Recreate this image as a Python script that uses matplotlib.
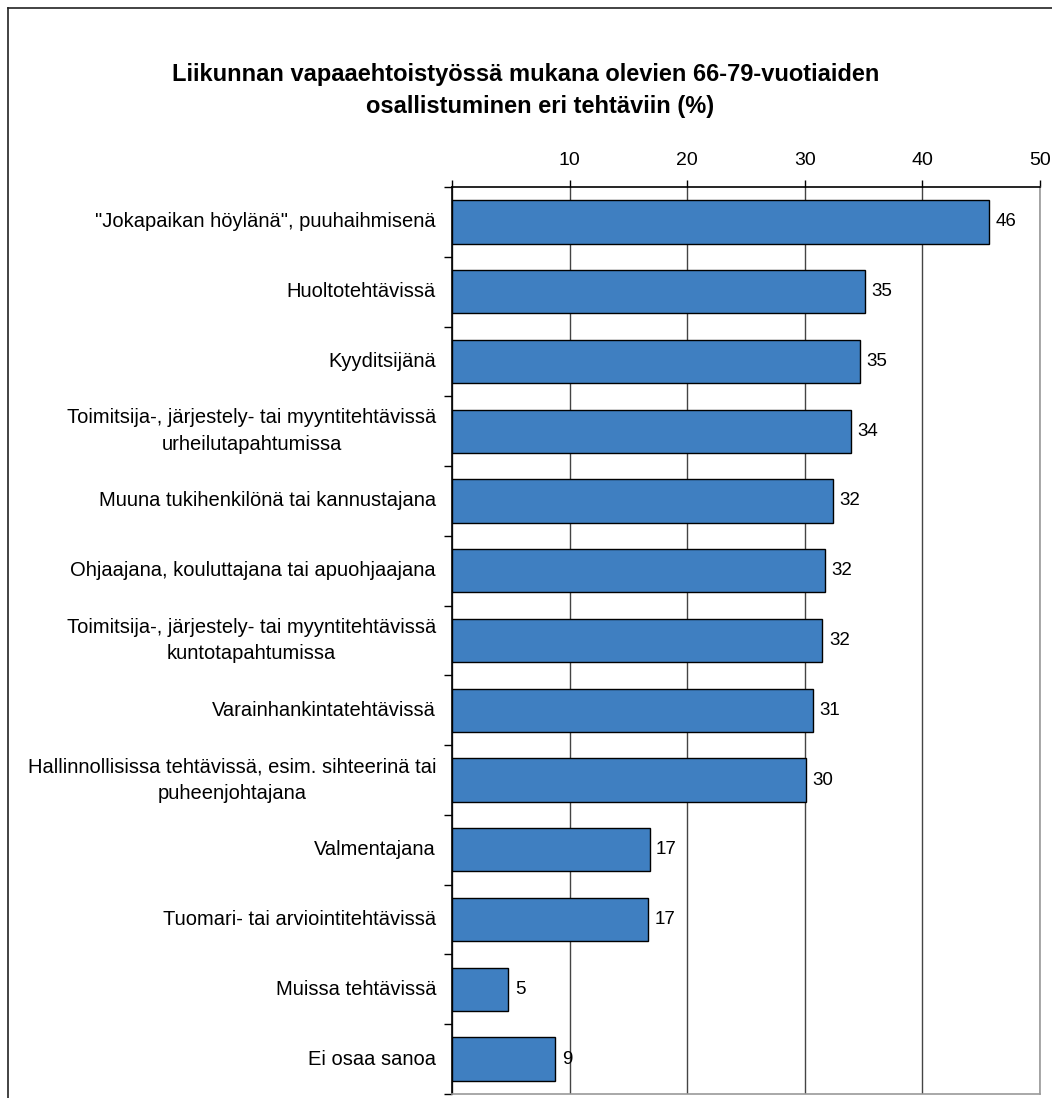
import matplotlib.pyplot as plt
from matplotlib.lines import Line2D

plt.rcParams['font.family'] = ['Liberation Sans', 'DejaVu Sans']

categories = [
    '"Jokapaikan höylänä", puuhaihmisenä',
    'Huoltotehtävissä',
    'Kyyditsijänä',
    'Toimitsija-, järjestely- tai myyntitehtävissä\nurheilutapahtumissa',
    'Muuna tukihenkilönä tai kannustajana',
    'Ohjaajana, kouluttajana tai apuohjaajana',
    'Toimitsija-, järjestely- tai myyntitehtävissä\nkuntotapahtumissa',
    'Varainhankintatehtävissä',
    'Hallinnollisissa tehtävissä, esim. sihteerinä tai\npuheenjohtajana',
    'Valmentajana',
    'Tuomari- tai arviointitehtävissä',
    'Muissa tehtävissä',
    'Ei osaa sanoa',
]
values = [45.7, 35.1, 34.7, 33.9, 32.4, 31.7, 31.5, 30.7, 30.1, 16.8, 16.7, 4.8, 8.8]
xticks = [0, 10, 20, 30, 40, 50]
xticklabels = ['', '10', '20', '30', '40', '50']

W, H = 1052, 1098
fig = plt.figure(figsize=(W / 100, H / 100), dpi=100)
ax = fig.add_axes([452 / W, 1 - 1094 / H, (1040 - 452) / W, (1094 - 187) / H])

n = len(categories)
ypos = list(range(n))
ax.barh(ypos, values, height=0.62, color='#3F7FC1', edgecolor='black', linewidth=1.0, zorder=3)

for y, v in zip(ypos, values):
    ax.text(v + 0.55, y, f"{v:.0f}", va='center', ha='left', fontsize=13.5, zorder=4)

ax.set_xlim(0, 50)
ax.set_ylim(n - 0.5, -0.5)
ax.xaxis.tick_top()
ax.set_xticks(xticks)
ax.set_xticklabels(xticklabels, fontsize=14)
ax.tick_params(axis='x', direction='out', length=5, width=1, pad=8, colors='black')
ax.grid(axis='x', color='#444444', linewidth=1.0, zorder=1)

# category labels as text, tick marks at category boundaries
ax.set_yticks([i + 0.5 for i in range(-1, n)])
ax.set_yticklabels([])
ax.tick_params(axis='y', direction='out', length=6, width=1, colors='black')
for y, c in zip(ypos, categories):
    ax.text(-1.35, y, c, ha='right', va='center', fontsize=14.5,
            multialignment='center', linespacing=1.5)

ax.spines['left'].set_color('black')
ax.spines['top'].set_color('black')
ax.spines['right'].set_color('#999999')
ax.spines['bottom'].set_color('#999999')
for s in ax.spines.values():
    s.set_linewidth(1.2)

fig.text(0.5, 1 - 75 / H, 'Liikunnan vapaaehtoistyössä mukana olevien 66-79-vuotiaiden',
         ha='center', va='center', fontsize=17, fontweight='bold')
fig.text(0.513, 1 - 106 / H, 'osallistuminen eri tehtäviin (%)',
         ha='center', va='center', fontsize=17, fontweight='bold')

# outer frame (only left and top edges visible in the crop)
fig.add_artist(Line2D([8 / W, 8 / W], [0, 1 - 8 / H], transform=fig.transFigure, color='#222222', linewidth=1.2))
fig.add_artist(Line2D([8 / W, 1], [1 - 8 / H, 1 - 8 / H], transform=fig.transFigure, color='#222222', linewidth=1.2))

fig.savefig('out.png', dpi=100)
